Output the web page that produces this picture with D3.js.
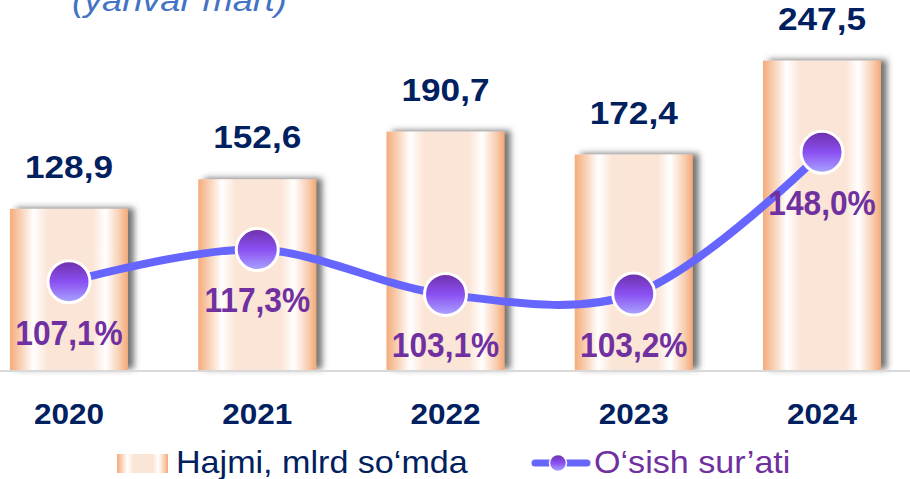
<!DOCTYPE html>
<html>
<head>
<meta charset="utf-8">
<script src="https://cdn.jsdelivr.net/npm/d3@7"></script>
<style>
  body { margin: 0; background: #fff; }
  svg { display: block; font-family: "Liberation Sans", Arial, sans-serif; }
</style>
</head>
<body>
<div id="chart"></div>
<script>
(function() {

  var years = ['2020', '2021', '2022', '2023', '2024']
  var volume = [128.9, 152.6, 190.7, 172.4, 247.5]
  var growth = [107.1, 117.3, 103.1, 103.2, 148.0]
  var volumeLabels = ['128,9', '152,6', '190,7', '172,4', '247,5']
  var growthLabels = ['107,1%', '117,3%', '103,1%', '103,2%', '148,0%']
  var legendNames = ['Hajmi, mlrd so\u2018mda', 'O\u2018sish sur\u2019ati']

  var width = 910
  var height = 479
  var baseline = 370

  var svg = d3.select("#chart")
    .append("svg")
    .attr("width", width)
    .attr("height", height)

  var defs = svg.append("defs")

  var barGrad = defs.append("linearGradient")
    .attr("id", "bar-grad")
    .attr("x1", 0).attr("x2", 1).attr("y1", 0).attr("y2", 0)
  var barStops = [[0, '#F4AC7C'], [0.08, '#F8CCAD'], [0.2, '#FFFFFF'], [0.32, '#FBE5D6'],
                  [0.7, '#FBE5D6'], [0.81, '#FFFFFF'], [0.93, '#F8CDB0'], [1, '#F3A877']]
  barStops.forEach(function(s) {
    barGrad.append("stop").attr("offset", s[0]).attr("stop-color", s[1])
  })

  var dotGrad = defs.append("linearGradient")
    .attr("id", "dot-grad")
    .attr("x1", 0).attr("x2", 0).attr("y1", 0).attr("y2", 1)
  dotGrad.append("stop").attr("offset", 0).attr("stop-color", '#6E2FA8')
  dotGrad.append("stop").attr("offset", 0.5).attr("stop-color", '#8A50F2')
  dotGrad.append("stop").attr("offset", 1).attr("stop-color", '#AAA6FF')

  var shadow = defs.append("filter")
    .attr("id", "bar-shadow")
    .attr("x", "-20%").attr("y", "-20%").attr("width", "140%").attr("height", "140%")
  shadow.append("feDropShadow")
    .attr("dx", 6).attr("dy", -1)
    .attr("stdDeviation", 3)
    .attr("flood-color", '#444')
    .attr("flood-opacity", 0.75)

  var xScale = d3.scalePoint()
    .domain(years)
    .range([69, 822])

  var barWidth = 118

  var yBar = d3.scaleLinear()
    .domain([0, 250])
    .range([baseline, 57.5])

  var yLine = d3.scaleLinear()
    .domain([80, 150])
    .range([367.5, 146])

  // title, cut off at the top like the source slide
  svg.append("text")
    .attr("transform", "translate(72,11) scale(1.13,1)")
    .attr("font-size", 32)
    .attr("font-style", "italic")
    .attr("fill", '#4472C4')
    .text('(yanvar mart)')

  // bars
  svg.selectAll(".bar")
    .data(volume)
    .enter().append("rect")
    .attr("class", "bar")
    .attr("x", function(d, i) { return xScale(years[i]) - barWidth / 2 })
    .attr("y", function(d) { return yBar(d) })
    .attr("width", barWidth)
    .attr("height", function(d) { return baseline - yBar(d) })
    .attr("fill", "url(#bar-grad)")
    .attr("filter", "url(#bar-shadow)")

  // axis line
  svg.append("line")
    .attr("x1", 0).attr("x2", width)
    .attr("y1", baseline + 1).attr("y2", baseline + 1)
    .attr("stroke", '#D9D9D9')
    .attr("stroke-width", 2)

  // value labels
  svg.selectAll(".value-label")
    .data(volume)
    .enter().append("text")
    .attr("class", "value-label")
    .attr("transform", function(d, i) {
      return "translate(" + xScale(years[i]) + "," + (yBar(d) - 31) + ") scale(1.1,1)"
    })
    .attr("text-anchor", "middle")
    .attr("font-size", 32)
    .attr("font-weight", "bold")
    .attr("fill", '#002060')
    .text(function(d, i) { return volumeLabels[i] })

  // year labels
  svg.selectAll(".year-label")
    .data(years)
    .enter().append("text")
    .attr("class", "year-label")
    .attr("transform", function(d) {
      return "translate(" + xScale(d) + ",424) scale(1.05,1)"
    })
    .attr("text-anchor", "middle")
    .attr("font-size", 30)
    .attr("font-weight", "bold")
    .attr("fill", '#002060')
    .text(function(d) { return d })

  // growth line
  var points = growth.map(function(g, i) { return [xScale(years[i]), yLine(g)] })

  var line = d3.line()
    .curve(d3.curveCatmullRom.alpha(0.5))

  svg.append("path")
    .attr("d", line(points))
    .attr("fill", "none")
    .attr("stroke", '#6666FF')
    .attr("stroke-width", 8)

  svg.selectAll(".dot")
    .data(growth)
    .enter().append("circle")
    .attr("class", "dot")
    .attr("cx", function(d, i) { return xScale(years[i]) })
    .attr("cy", function(d) { return yLine(d) })
    .attr("r", 21)
    .attr("fill", "url(#dot-grad)")
    .attr("stroke", '#fff')
    .attr("stroke-width", 3)

  svg.selectAll(".growth-label")
    .data(growth)
    .enter().append("text")
    .attr("class", "growth-label")
    .attr("transform", function(d, i) {
      return "translate(" + xScale(years[i]) + "," + (yLine(d) + 63) + ") scale(0.88,1)"
    })
    .attr("text-anchor", "middle")
    .attr("font-size", 36)
    .attr("font-weight", "bold")
    .attr("fill", '#7030A0')
    .text(function(d, i) { return growthLabels[i] })

  // legend
  var legend = svg.append("g").attr("class", "legend")

  legend.append("rect")
    .attr("x", 117).attr("y", 454)
    .attr("width", 51).attr("height", 19)
    .attr("fill", "url(#bar-grad)")

  legend.append("text")
    .attr("transform", "translate(176,473) scale(1.1,1)")
    .attr("font-size", 31)
    .attr("fill", '#002060')
    .text(legendNames[0])

  legend.append("line")
    .attr("x1", 535).attr("x2", 587)
    .attr("y1", 463).attr("y2", 463)
    .attr("stroke", '#6666FF')
    .attr("stroke-width", 7)
    .attr("stroke-linecap", "round")

  legend.append("circle")
    .attr("cx", 558).attr("cy", 463)
    .attr("r", 8.5)
    .attr("fill", "url(#dot-grad)")
    .attr("stroke", '#fff')
    .attr("stroke-width", 1.5)

  legend.append("text")
    .attr("transform", "translate(594,473) scale(1.1,1)")
    .attr("font-size", 31)
    .attr("fill", '#7030A0')
    .text(legendNames[1])

})();
</script>
</body>
</html>
